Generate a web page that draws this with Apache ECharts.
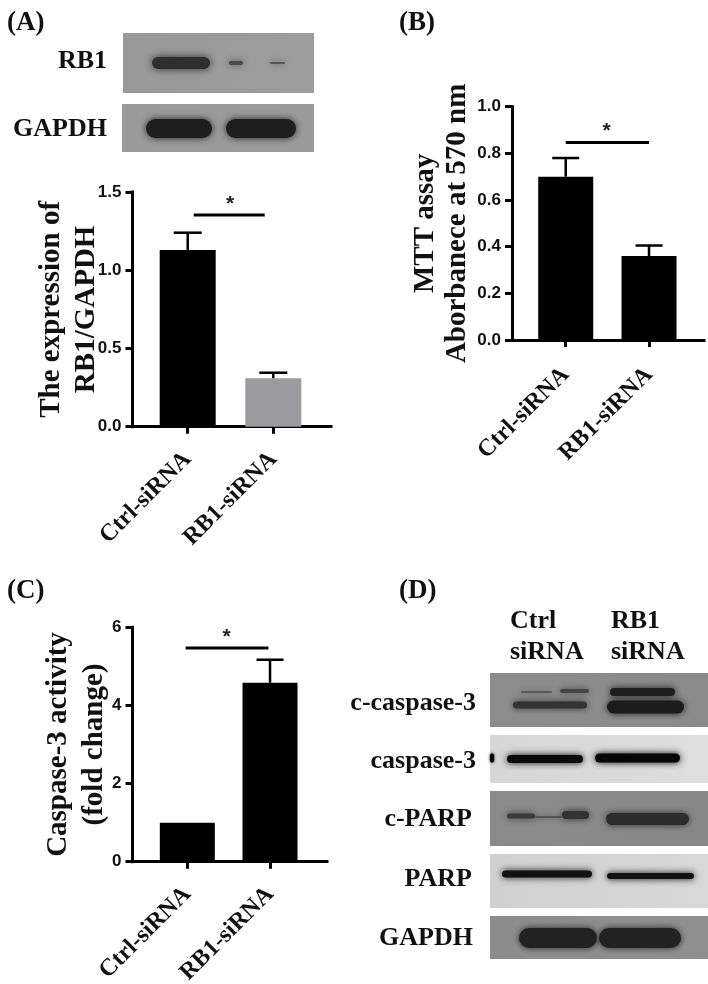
<!DOCTYPE html>
<html>
<head>
<meta charset="utf-8">
<style>html,body{margin:0;padding:0;background:#fff}#c{width:708px;height:984px}</style>
<script src="https://cdn.jsdelivr.net/npm/echarts@6/dist/echarts.min.js"></script>
</head>
<body>
<div id="c"></div>
<script>
// ---- data ----
const categories = ['Ctrl-siRNA', 'RB1-siRNA'];
const expressionValues = [1.13, 0.31];
const expressionErrorTops = [1.24, 0.345];
const expressionTicks = [0, 0.5, 1.0, 1.5];
const expressionSignificance = 1.353;
const mttValues = [0.70, 0.36];
const mttErrorTops = [0.78, 0.405];
const mttTicks = [0, 0.2, 0.4, 0.6, 0.8, 1.0];
const mttSignificance = 0.847;
const caspaseValues = [1, 4.58];
const caspaseErrorTops = [1, 5.17];
const caspaseTicks = [0, 2, 4, 6];
const caspaseSignificance = 5.47;

const SERIF = '"Liberation Serif","Times New Roman",serif';
const SANS = '"Liberation Sans",Arial,sans-serif';

function tbox(x, y, text, size, align) {
  return {type:'text', silent:true, z:10, style:{x:x, y:y, text:text, fill:'#111', align:align||'left', verticalAlign:'middle',
    font:'bold '+size+'px '+SERIF}};
}
function panel(x, y, w, h, c1, c2) {
  return {type:'rect', silent:true, z:1, shape:{x:x,y:y,width:w,height:h},
    style:{fill:{type:'linear',x:0,y:0,x2:1,y2:0,colorStops:[{offset:0,color:c1},{offset:1,color:c2||c1}]}}};
}
function band(x0, x1, cy, h, color, blur) {
  return {type:'rect', silent:true, z:2, shape:{x:x0,y:cy-h/2,width:x1-x0,height:h,r:h/2},
    style:{fill:color, shadowBlur:blur===undefined?7:blur, shadowColor:color}};
}
function blots() {
  return [
    panel(123,33,191,60,'#999','#9d9d9d'),
    band(152,210,63,12,'#2e2e2e',8), band(229,243,63,4,'#4a4a4a',7), band(270,285,63,2,'#555',7),
    panel(122,104,192,48,'#9a9a9a'),
    band(146,212,128.5,19,'#1e1e1e',7), band(226,296,128.5,19,'#1e1e1e',7),

    panel(490,673,218,54,'#8d8d8d','#8a8a8a'),
    band(521,552,692,2,'#5a5a5a',7), band(560,589,691,4,'#444',7),
    band(513,587,705,7,'#333',7),
    band(610,675,692,8,'#1f1f1f',7), band(607,684,707,13,'#1c1c1c',7),

    panel(490,735,218,48,'#d6d6d6','#dedede'),
    band(490,494,758,9,'#000',3),
    band(507,583,759,8,'#0a0a0a',7), band(595,680,758,9,'#050505',7),

    panel(490,791,218,55,'#8a8a8a','#888'),
    band(507,535,816,5,'#3a3a3a',7), band(535,562,817,2,'#555',5), band(562,589,815,8,'#333',7),
    band(606,689,819,12,'#2c2c2c',7),

    panel(490,854,218,54,'#d0d0d0','#d8d8d8'),
    band(502,592,874,7,'#111',7), band(607,694,876,6,'#111',7),

    panel(490,916,218,43,'#8c8c8c','#8f8f8f'),
    band(519,597,938,20,'#222',6), band(599,681,938,20,'#222',6),

    tbox(7,23,'(A)',27), tbox(399,23,'(B)',27), tbox(7,591,'(C)',27), tbox(399,591,'(D)',27),
    tbox(107,61,'RB1',26,'right'), tbox(107,129,'GAPDH',26,'right'),
    tbox(510,621,'Ctrl',26), tbox(510,652,'siRNA',26), tbox(611,621,'RB1',26), tbox(611,652,'siRNA',26),
    tbox(476,703,'c-caspase-3',26,'right'), tbox(476,761,'caspase-3',26,'right'),
    tbox(472,819,'c-PARP',26,'right'), tbox(472,879,'PARP',26,'right'), tbox(473,938,'GAPDH',26,'right')
  ];
}

function grid(left, right, top, bottom) {
  return {left:left, top:top, width:right-left, height:bottom-top, containLabel:false, outerBoundsMode:'none'};
}
function xAxisFor(idx, min, max, margin) {
  return {type:'value', gridIndex:idx, min:min, max:max, splitLine:{show:false},
    axisLine:{show:true, onZero:false, lineStyle:{color:'#000', width:3, cap:'square'}},
    axisTick:{show:true, customValues:[1,2], length:7, lineStyle:{color:'#000', width:3}},
    axisLabel:{show:true, customValues:[1,2], rotate:45, margin:margin, color:'#111',
      fontFamily:SERIF, fontWeight:'bold', fontSize:24,
      formatter:function(v){ return categories[Math.round(v)-1] || ''; }}};
}
function yAxisFor(idx, ticks, name, gap, lh, decimals) {
  const mx = ticks[ticks.length-1];
  return {type:'value', gridIndex:idx, min:0, max:mx, interval:ticks[1]-ticks[0],
    name:name, nameLocation:'middle', nameGap:gap, nameRotate:90, nameMoveOverlap:false,
    nameTextStyle:{fontFamily:SERIF, fontWeight:'bold', fontSize:29, color:'#111', lineHeight:lh},
    splitLine:{show:false},
    axisLine:{show:true, lineStyle:{color:'#000', width:3, cap:'square'}},
    axisTick:{show:true, length:7, lineStyle:{color:'#000', width:3}},
    axisLabel:{show:true, margin:11, color:'#111', fontFamily:SANS, fontWeight:'bold', fontSize:17,
      formatter:function(v){ return v.toFixed(decimals); }}};
}
function barSeries(idx, values, width, colors) {
  return {type:'bar', xAxisIndex:idx, yAxisIndex:idx, barWidth:width, z:2, silent:true,
    data:values.map(function(v,i){ return {value:[i+1,v], itemStyle:{color:colors[i]}}; })};
}
function errorSeries(idx, values, tops, capWidth) {
  return {type:'custom', xAxisIndex:idx, yAxisIndex:idx, z:3, silent:true, clip:false,
    data:values.map(function(v,i){ return [i+1,v,tops[i]]; }),
    renderItem:function(p, api){
      if (api.value(2) <= api.value(1)) return {type:'group', children:[]};
      const a = api.coord([api.value(0), api.value(1)]);
      const b = api.coord([api.value(0), api.value(2)]);
      const st = {stroke:'#000', lineWidth:2.5};
      return {type:'group', children:[
        {type:'line', shape:{x1:a[0],y1:a[1],x2:b[0],y2:b[1]}, style:st},
        {type:'line', shape:{x1:b[0]-capWidth/2,y1:b[1],x2:b[0]+capWidth/2,y2:b[1]}, style:st}
      ]};
    }};
}
function sigSeries(idx, x0, x1, y, starX) {
  return {type:'custom', xAxisIndex:idx, yAxisIndex:idx, z:3, silent:true, clip:false,
    data:[[x0,x1,y,starX]],
    renderItem:function(p, api){
      const a = api.coord([api.value(0), api.value(2)]);
      const b = api.coord([api.value(1), api.value(2)]);
      const s = api.coord([api.value(3), api.value(2)]);
      return {type:'group', children:[
        {type:'line', shape:{x1:a[0],y1:a[1],x2:b[0],y2:b[1]}, style:{stroke:'#000', lineWidth:3}},
        {type:'text', style:{x:s[0], y:s[1]-11, text:'*', fill:'#222', align:'center', verticalAlign:'middle',
          font:'bold 21px '+SANS}}
      ]};
    }};
}

const option = {
  animation:false,
  backgroundColor:'#fff',
  grid:[grid(132.5,331,192,426.7), grid(512,704,106.7,340), grid(132.5,327,627.3,861.7)],
  xAxis:[xAxisFor(0,0.355,2.674,29), xAxisFor(1,0.355,2.66,31), xAxisFor(2,0.337,2.689,29)],
  yAxis:[
    yAxisFor(0,expressionTicks,'The expression of\nRB1/GAPDH',28,35,1),
    yAxisFor(1,mttTicks,'MTT assay\nAborbanece at 570 nm',38,32,1),
    yAxisFor(2,caspaseTicks,'Caspase-3 activity\n(fold change)',20,36,0)
  ],
  series:[
    barSeries(0,expressionValues,56,['#000','#9b9b9f']),
    errorSeries(0,expressionValues,expressionErrorTops,28),
    sigSeries(0,1.07,1.9,expressionSignificance,1.495),
    barSeries(1,mttValues,55,['#000','#000']),
    errorSeries(1,mttValues,mttErrorTops,27),
    sigSeries(1,1,2,mttSignificance,1.49),
    barSeries(2,caspaseValues,55,['#000','#000']),
    errorSeries(2,caspaseValues,caspaseErrorTops,27),
    sigSeries(2,0.98,1.98,caspaseSignificance,1.475)
  ],
  graphic:{elements:blots()}
};
echarts.init(document.getElementById('c'), null, {renderer:'canvas'}).setOption(option);
</script>
</body>
</html>
